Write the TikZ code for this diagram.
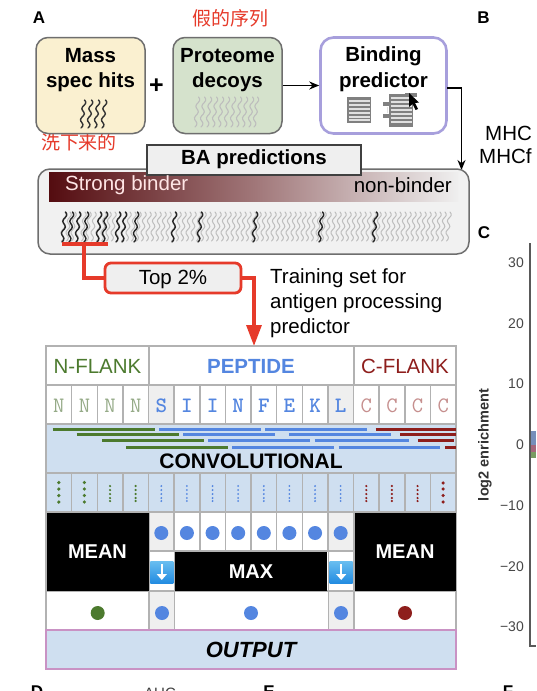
\documentclass[tikz,border=0pt]{standalone}
\usepackage{fontspec}
\setmainfont{Liberation Sans}
\newfontfamily\cjkfont{Noto Sans CJK SC}
\usetikzlibrary{arrows.meta}
\definecolor{frame}{HTML}{6E6E6E}
\definecolor{grid}{HTML}{B2B2B2}
\definecolor{panelblue}{HTML}{CFDFF0}
\definecolor{pepblue}{HTML}{5486E0}
\definecolor{nflank}{HTML}{4C7A2E}
\definecolor{cflank}{HTML}{8E1E1C}
\definecolor{redline}{HTML}{E63A2A}
\definecolor{purpleline}{HTML}{A79FDC}
\definecolor{pinkline}{HTML}{C992C4}
\definecolor{squiggray}{HTML}{BDBDBD}
\definecolor{anchorgray}{HTML}{EFEFEF}
\definecolor{massfill}{HTML}{FAF0D0}
\definecolor{decoyfill}{HTML}{D5E2CC}
\newcommand{\fsz}[1]{\fontsize{#1}{#1}\selectfont}
% squiggle: colour, bottom x, top y, height, width
\newcommand{\squig}[5]{\draw[#1,line width=#5pt,line cap=round]
  plot[smooth,domain=0:1,samples=17,variable=\t]
  ({#2+3.5*\t+1.6*sin(900*\t)},{#3+#4-#4*\t});}
\tikzset{
  x=1pt,y=-1pt,
  roundbox/.style={draw=frame,line width=1.5pt,rounded corners=12pt,inner sep=0pt},
  plainlabel/.style={inner sep=0pt,font=\fsz{20.5}},
  boldlabel/.style={inner sep=0pt,font=\fsz{20.5}\bfseries},
  panellabel/.style={inner sep=0pt,font=\fsz{17}\bfseries},
  gridline/.style={draw=grid,line width=1.5pt},
  note/.style={inner sep=0pt,text=redline,font=\cjkfont\fsz{19}},
  redpath/.style={draw=redline,line width=3.2pt},
  ticklabel/.style={inner sep=0pt,anchor=east,text=black!72,font=\fsz{14}},
  stripe/.style={draw=black!12,line width=1.3pt},
  convbar/.style={line width=3pt},
  blackarrow/.style={line width=1.5pt,-{Stealth[length=10pt,width=8pt]}},
}
\begin{document}
\begin{tikzpicture}
\useasboundingbox (0,0) rectangle (536,691);
\clip (0,0) rectangle (536,691);
\fill[white] (0,0) rectangle (536,691);

% panel letters
\node[panellabel] (lA) at (39,18) {A};
\node[panellabel] (lB) at (483.5,18) {B};
\node[panellabel] (lC) at (484,233) {C};
\node[panellabel] (lD) at (37,692) {D};
\node[panellabel] (lE) at (269,692) {E};
\node[panellabel] (lF) at (508,692) {F};
\node[inner sep=0pt,font=\fsz{15},text=black!75] (auc) at (160,693) {AUC};

% red notes
\node[note] (fake) at (230,18) {假的序列};
\node[note] (wash) at (79,142) {洗下来的};

% top boxes
\node[roundbox,fill=massfill,minimum width=109pt,minimum height=96pt] (mass) at (90.5,85.5) {};
\node[roundbox,fill=decoyfill,minimum width=109pt,minimum height=96pt] (decoy) at (227.5,85.5) {};
\node[draw=purpleline,line width=2.6pt,rounded corners=13pt,fill=white,minimum width=126pt,minimum height=96pt,inner sep=0pt] (bind) at (383.5,85.5) {};
\node[boldlabel] (t1) at (90.5,56) {Mass};
\node[boldlabel] (t2) at (90.5,82) {spec hits};
\node[boldlabel] (t3) at (227.5,56) {Proteome};
\node[boldlabel] (t4) at (227.5,82) {decoys};
\node[boldlabel] (t5) at (383.5,56) {Binding};
\node[boldlabel] (t6) at (383.5,82) {predictor};
\node[inner sep=0pt,font=\fsz{25}\bfseries] (plus) at (156.5,86) {+};

\foreach \x in {81,88,95,102} {\squig{black!80}{\x}{100}{28}{1.4}}
\foreach \x in {195,201,207,213,219,225,231,237,243,249,254} {\squig{squiggray}{\x}{97}{30}{1.1}}

% stacks in binding predictor
\fill[black!50] (347,97) rectangle (371,123);
\foreach \y in {101,105,109,113,117,120} {\draw[stripe] (348.5,\y) -- (369.5,\y);}
\fill[black!50] (389,94) rectangle (413,127);
\fill[black!50] (383,102) rectangle (392,106);
\fill[black!50] (383,114) rectangle (392,118);
\fill[black!50] (405,92.5) rectangle (417,97);
\foreach \y in {98,102,106,110,114,118,122} {\draw[stripe] (390.5,\y) -- (411.5,\y);}
\draw[black!12,line width=1pt] (387,107) -- (387,113);
\fill[black] (409,93) -- (409,107) -- (412.5,104) -- (415.5,110) -- (418,109) -- (415,103) -- (419,102.5) -- cycle;

% connectors on top
\coordinate (bindout) at (447,88);
\coordinate (mainin) at (461.5,170);
\draw[blackarrow] (decoy.east) -- (bind.west);
\draw[blackarrow] (bindout) -| (mainin);

% MHC text
\node[plainlabel,anchor=west] (m1) at (485,133) {MHC};
\node[plainlabel,anchor=west] (m2) at (479,156) {MHCf};

% main box
\node[roundbox,fill=anchorgray!85!white,minimum width=431pt,minimum height=85pt] (main) at (253.5,211.5) {};
\shade[left color={rgb,255:red,84;green,12;blue,16},right color=anchorgray,middle color={rgb,255:red,160;green,118;blue,120}] (49,172) rectangle (458,201);
\node[draw=black!75,line width=1.4pt,fill=anchorgray,minimum width=214pt,minimum height=30pt,inner sep=0pt] (ba) at (254,160) {};
\node[boldlabel] (bat) at (254,159) {BA predictions};
\node[plainlabel,anchor=west,text=white!90!red] (sb) at (65,185.5) {Strong binder};
\node[plainlabel,anchor=east] (nb) at (452,185.5) {non-binder};

\foreach \x in {61.5,66.5,...,450} {\squig{squiggray}{\x}{212}{29}{1}}
\foreach \x in {62,69,76,84,97,103,116,122,134,172,198,253,319,373} {\squig{black!85}{\x}{212}{30}{1.4}}

% red connectors
\coordinate (barL) at (62,244);
\coordinate (barR) at (108,244);
\coordinate (barM) at (84,244);
\coordinate (redtip) at (254,346);
\node[draw=redline,line width=2.8pt,rounded corners=6pt,fill=anchorgray,minimum width=136pt,minimum height=30pt,inner sep=0pt] (top2) at (173,278) {};
\node[plainlabel] (top2t) at (173,279) {Top 2\%};
\draw[redpath] (barL) -- (barR);
\draw[redpath] (barM) |- (top2.west);
\draw[redpath,-{Triangle[length=21pt,width=15pt]}] (top2.east) -| (redtip);
\node[plainlabel,anchor=west] (tr1) at (270,278) {Training set for};
\node[plainlabel,anchor=west] (tr2) at (270,303) {antigen processing};
\node[plainlabel,anchor=west] (tr3) at (270,328) {predictor};

% table backgrounds
\fill[panelblue] (46,424) rectangle (456,512);
\fill[anchorgray] (149,385) rectangle (174.6,424);
\fill[anchorgray] (328.4,385) rectangle (354,424);
\fill[anchorgray] (149,512) rectangle (174.6,551);
\fill[anchorgray] (328.4,512) rectangle (354,551);
\fill[anchorgray] (149,591) rectangle (174.6,630);
\fill[anchorgray] (328.4,591) rectangle (354,630);

% table grid
\draw[gridline] (46,346) rectangle (456,630);
\draw[gridline] (149,346) -- (149,385) (354,346) -- (354,385);
\foreach \y in {385,424,473,512} {\draw[gridline] (46,\y) -- (456,\y);}
\foreach \i in {1,...,15} {\draw[gridline] ({46+25.625*\i},385) -- ({46+25.625*\i},424);
                           \draw[gridline] ({46+25.625*\i},473) -- ({46+25.625*\i},512);}
\foreach \i in {5,...,11} {\draw[gridline] ({46+25.625*\i},512) -- ({46+25.625*\i},551);}
\draw[gridline] (149,551) -- (354,551);
\draw[gridline] (46,591) -- (456,591);
\draw[gridline] (149,512) -- (149,630) (174.6,512) -- (174.6,630) (328.4,512) -- (328.4,630) (354,512) -- (354,630);

% headers
\node[plainlabel,text=nflank] (nfl) at (97.5,366) {N-FLANK};
\node[boldlabel,text=pepblue] (pep) at (251,366) {PEPTIDE};
\node[plainlabel,text=cflank] (cfl) at (405,366) {C-FLANK};

% letters
\foreach \l [count=\i from 0] in {N,N,N,N} {\node[inner sep=0pt,font=\ttfamily\fsz{22},text=nflank!50!white!90!black] at ({58.8+25.625*\i},406) {\l};}
\foreach \l [count=\i from 4] in {S,I,I,N,F,E,K,L} {\node[inner sep=0pt,font=\ttfamily\bfseries\fsz{22},text=pepblue] at ({58.8+25.625*\i},406) {\l};}
\foreach \l [count=\i from 12] in {C,C,C,C} {\node[inner sep=0pt,font=\ttfamily\fsz{22},text=cflank!50!white] at ({58.8+25.625*\i},406) {\l};}

% convolution bars
\foreach \a/\b/\y in {52.7/155/429,76.7/179/434,102/204/440.7,126/228/447} {\draw[nflank,convbar] (\a,\y) -- (\b,\y);}
\foreach \a/\b/\y in {159/260.7/429,265/367/429,183/275.3/434,289/391/434,208/310/440.7,314.7/409/440.7,232/334/447,338.7/440/447} {\draw[pepblue,convbar] (\a,\y) -- (\b,\y);}
\foreach \a/\b/\y in {375.7/456/429,400/456/434,417.7/454/440.7,445/456/447} {\draw[cflank,convbar] (\a,\y) -- (\b,\y);}
\node[inner sep=0pt,font=\fsz{21}\bfseries] (conv) at (251,461) {CONVOLUTIONAL};

% dotted columns
\foreach \i in {0,1} {\foreach \y in {482.5,489,495.5,502} {\fill[nflank] ({58.8+25.625*\i},\y) circle (1.8);}}
\foreach \i in {2,3} {\foreach \y in {486,490,494,498,501} {\fill[nflank] ({58.8+25.625*\i},\y) circle (1.2);}}
\foreach \i in {4,...,11} {\foreach \y in {486,490,494,498,501} {\fill[pepblue] ({58.8+25.625*\i},\y) circle (1.05);}}
\foreach \i in {12,13,14} {\foreach \y in {486,490,494,498,501} {\fill[cflank] ({58.8+25.625*\i},\y) circle (1.2);}}
\foreach \y in {483,489,495.5,502} {\fill[cflank] ({58.8+25.625*15},\y) circle (1.8);}

% mean / max
\node[fill=black,text=white,font=\fsz{20}\bfseries,minimum width=102pt,minimum height=78pt,inner sep=0pt] (meanL) at (97.5,551.5) {MEAN};
\node[fill=black,text=white,font=\fsz{20}\bfseries,minimum width=101pt,minimum height=78pt,inner sep=0pt] (meanR) at (405,551.5) {MEAN};
\node[fill=black,text=white,font=\fsz{20}\bfseries,minimum width=152pt,minimum height=39pt,inner sep=0pt] (maxn) at (251,571.5) {MAX};

% dots
\foreach \i in {4,...,11} {\fill[pepblue] ({58.8+25.625*\i},533) circle (7);}
\fill[pepblue] (162,613) circle (7);
\fill[pepblue] (251,613) circle (7);
\fill[pepblue] (341,613) circle (7);
\fill[nflank] (97.7,613) circle (7);
\fill[cflank] (405,613) circle (7);

% blue arrow icons
\foreach \x in {161.8,341.2} {
  \shade[top color={rgb,255:red,105;green,190;blue,240},bottom color={rgb,255:red,35;green,140;blue,225}] ({\x-11.5},561) rectangle ({\x+11.5},583);
  \draw[white,line width=2.2pt,-{Triangle[length=6pt,width=10pt]}] (\x,564) -- (\x,580);
}

% output
\node[draw=pinkline,line width=2.4pt,fill=panelblue,minimum width=410pt,minimum height=39pt,inner sep=0pt,font=\fsz{22}\bfseries\itshape] (out) at (251,649.5) {OUTPUT};

% right plot
\coordinate (axtop) at (530,243);
\coordinate (axcorner) at (530,646);
\coordinate (axright) at (536,646);
\fill[pepblue!70!black!70] (530,431) rectangle (536,445);
\fill[black!45!purple!60] (530,445) rectangle (536,452);
\fill[nflank!75] (530,452) rectangle (536,458);
\draw[black!65,line width=1.3pt] (axtop) -- (axcorner) -- (axright);
\node[ticklabel] (y1) at (524,263) {30};
\node[ticklabel] (y2) at (524,324) {20};
\node[ticklabel] (y3) at (524,384) {10};
\node[ticklabel] (y4) at (524,445) {0};
\node[ticklabel] (y5) at (524,506) {−10};
\node[ticklabel] (y6) at (524,567) {−20};
\node[ticklabel] (y7) at (524,627) {−30};
\node[inner sep=0pt,rotate=90,font=\fsz{14.5}\bfseries,text=black!80] (ylab) at (485,445) {log2 enrichment};
\end{tikzpicture}
\end{document}
